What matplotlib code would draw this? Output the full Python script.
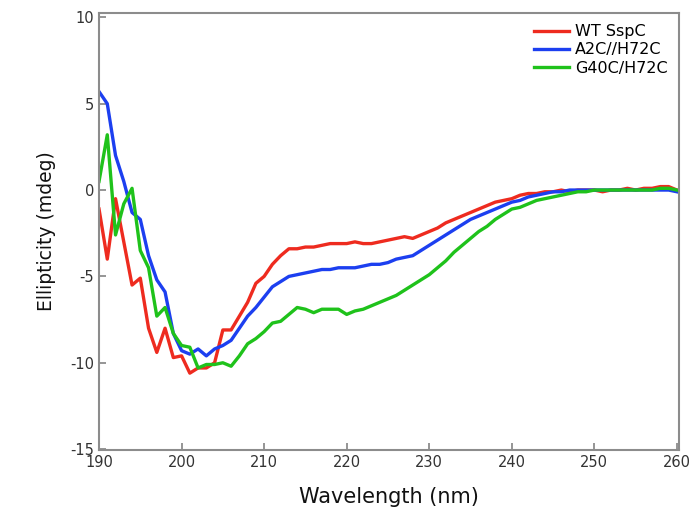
import matplotlib
matplotlib.use("Agg")
import matplotlib.pyplot as plt

# wavelength grid (nm), 1 nm steps
wavelength = list(range(190, 261))

wt_sspc = [
    -1.1, -4.0, -0.5, -3.0, -5.5, -5.1, -8.0, -9.4, -8.0, -9.7,
    -9.6, -10.6, -10.3, -10.3, -10.0, -8.1, -8.1, -7.3, -6.5, -5.4,
    -5.0, -4.3, -3.8, -3.4, -3.4, -3.3, -3.3, -3.2, -3.1, -3.1,
    -3.1, -3.0, -3.1, -3.1, -3.0, -2.9, -2.8, -2.7, -2.8, -2.6,
    -2.4, -2.2, -1.9, -1.7, -1.5, -1.3, -1.1, -0.9, -0.7, -0.6,
    -0.5, -0.3, -0.2, -0.2, -0.1, -0.1, 0.0, -0.1, 0.0, 0.0,
    0.0, -0.1, 0.0, 0.0, 0.1, 0.0, 0.1, 0.1, 0.2, 0.2,
    0.0,
]

a2c_h72c = [
    5.7, 5.0, 2.0, 0.5, -1.3, -1.7, -3.8, -5.2, -5.9, -8.3,
    -9.3, -9.5, -9.2, -9.6, -9.2, -9.0, -8.7, -8.0, -7.3, -6.8,
    -6.2, -5.6, -5.3, -5.0, -4.9, -4.8, -4.7, -4.6, -4.6, -4.5,
    -4.5, -4.5, -4.4, -4.3, -4.3, -4.2, -4.0, -3.9, -3.8, -3.5,
    -3.2, -2.9, -2.6, -2.3, -2.0, -1.7, -1.5, -1.3, -1.1, -0.9,
    -0.7, -0.6, -0.4, -0.3, -0.2, -0.1, -0.1, 0.0, 0.0, 0.0,
    0.0, 0.0, 0.0, 0.0, 0.0, 0.0, 0.0, 0.0, 0.0, 0.0,
    -0.1,
]

g40c_h72c = [
    0.5, 3.2, -2.6, -0.8, 0.1, -3.5, -4.5, -7.3, -6.8, -8.3,
    -9.0, -9.1, -10.3, -10.1, -10.1, -10.0, -10.2, -9.6, -8.9, -8.6,
    -8.2, -7.7, -7.6, -7.2, -6.8, -6.9, -7.1, -6.9, -6.9, -6.9,
    -7.2, -7.0, -6.9, -6.7, -6.5, -6.3, -6.1, -5.8, -5.5, -5.2,
    -4.9, -4.5, -4.1, -3.6, -3.2, -2.8, -2.4, -2.1, -1.7, -1.4,
    -1.1, -1.0, -0.8, -0.6, -0.5, -0.4, -0.3, -0.2, -0.1, -0.1,
    0.0, 0.0, 0.0, 0.0, 0.0, 0.0, 0.0, 0.0, 0.1, 0.1,
    0.0,
]

series = [
    ("WT SspC", wt_sspc, "#ee2b1f"),
    ("A2C//H72C", a2c_h72c, "#1c3ff0"),
    ("G40C/H72C", g40c_h72c, "#1fc21b"),
]

x_ticks = [190, 200, 210, 220, 230, 240, 250, 260]
y_ticks = [-15, -10, -5, 0, 5, 10]

plt.rcParams["font.family"] = ["DejaVu Sans"]
plt.rcParams["axes.unicode_minus"] = False

fig = plt.figure(figsize=(6.91, 5.12), dpi=100)
ax = fig.add_axes([0.1433, 0.1211, 0.8393, 0.8535])

for label, values, color in series:
    ax.plot(wavelength, values, color=color, linewidth=2.4, label=label)

ax.set_xlim(190, 260.25)
ax.set_ylim(-15.05, 10.25)
ax.set_xticks(x_ticks)
ax.set_yticks(y_ticks)

for spine in ax.spines.values():
    spine.set_color("#8c8c8c")
    spine.set_linewidth(1.5)

ax.tick_params(direction="in", length=5, width=1.3, color="#8c8c8c",
               labelcolor="#333333", labelsize=10.5)

ax.set_xlabel("Wavelength (nm)", fontsize=15, color="#111111", labelpad=12)
ax.set_ylabel("Ellipticity (mdeg)", fontsize=13.5, color="#111111", labelpad=10)

ax.legend(loc="upper right", frameon=False, fontsize=11.5,
          handlelength=2.2, handletextpad=0.4, labelspacing=0.2,
          borderaxespad=0.3)

fig.savefig("out.png", dpi=100)
